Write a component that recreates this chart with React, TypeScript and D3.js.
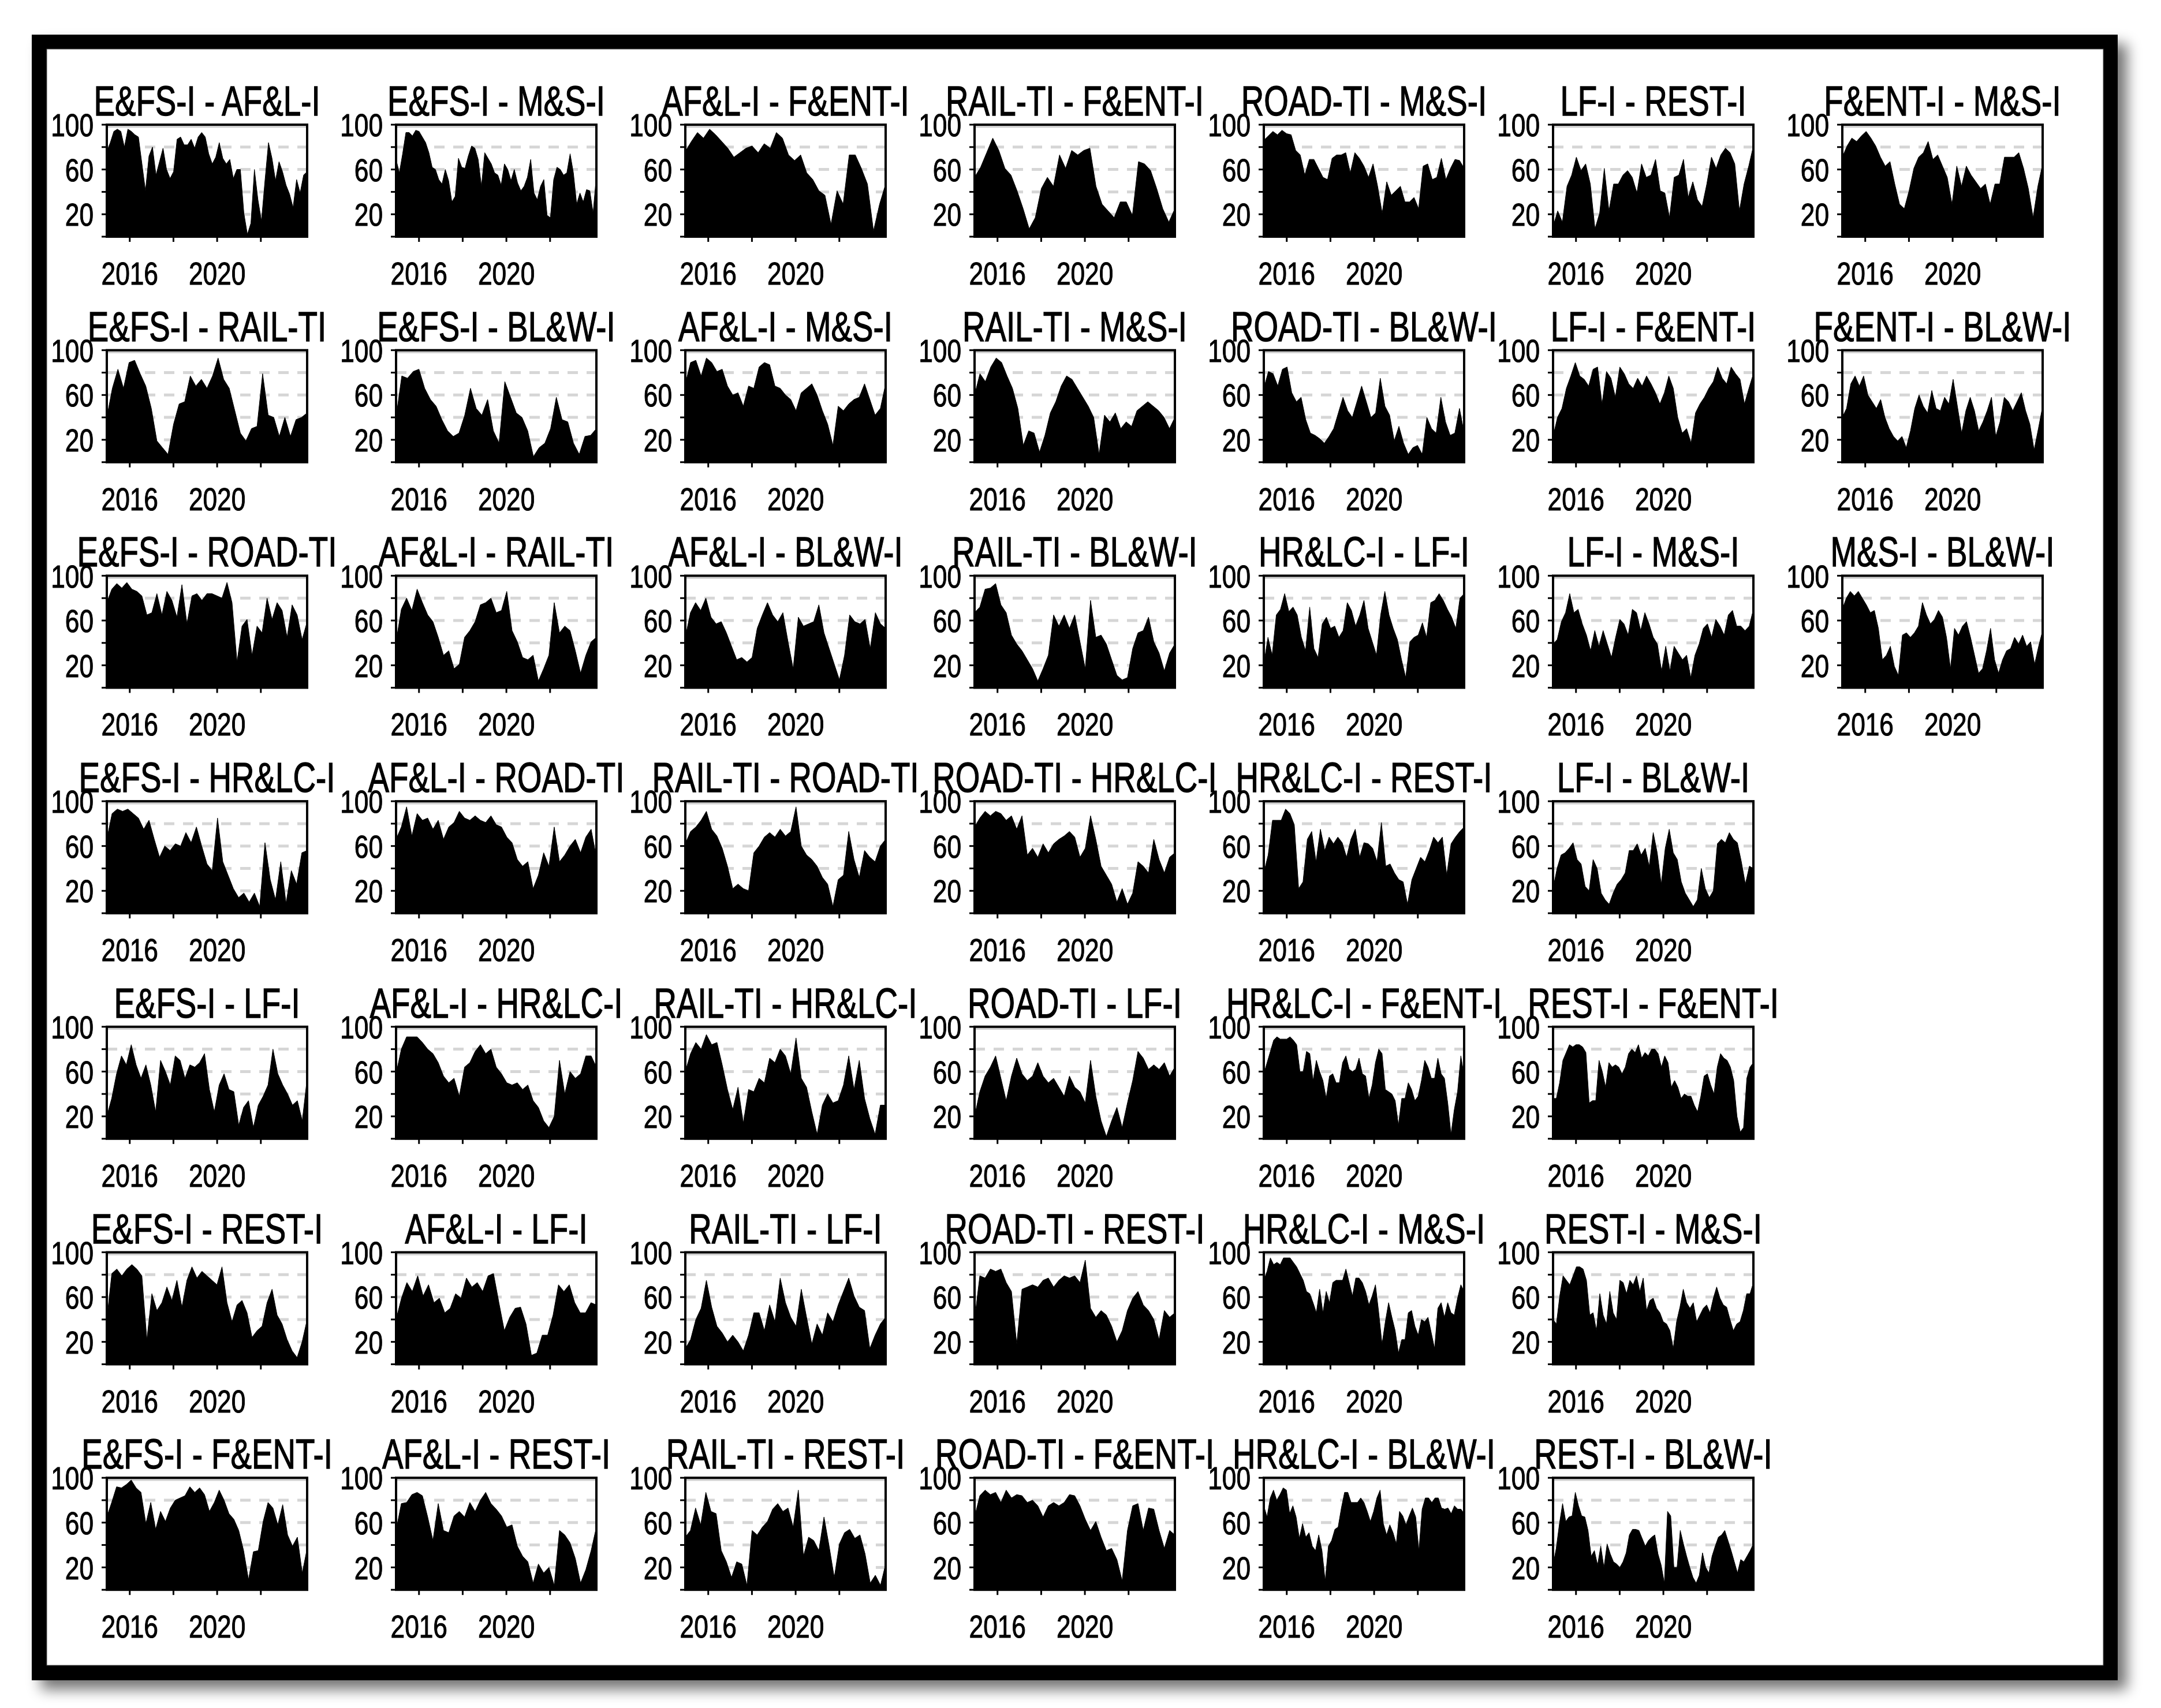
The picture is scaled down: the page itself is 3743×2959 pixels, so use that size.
import React from 'react';
import * as d3 from 'd3';

const W = 3743;
const H = 2959;

const titles = [
  'E&FS-I - AF&L-I', 'E&FS-I - M&S-I', 'AF&L-I - F&ENT-I', 'RAIL-TI - F&ENT-I', 'ROAD-TI - M&S-I', 'LF-I - REST-I', 'F&ENT-I - M&S-I',
  'E&FS-I - RAIL-TI', 'E&FS-I - BL&W-I', 'AF&L-I - M&S-I', 'RAIL-TI - M&S-I', 'ROAD-TI - BL&W-I', 'LF-I - F&ENT-I', 'F&ENT-I - BL&W-I',
  'E&FS-I - ROAD-TI', 'AF&L-I - RAIL-TI', 'AF&L-I - BL&W-I', 'RAIL-TI - BL&W-I', 'HR&LC-I - LF-I', 'LF-I - M&S-I', 'M&S-I - BL&W-I',
  'E&FS-I - HR&LC-I', 'AF&L-I - ROAD-TI', 'RAIL-TI - ROAD-TI', 'ROAD-TI - HR&LC-I', 'HR&LC-I - REST-I', 'LF-I - BL&W-I',
  'E&FS-I - LF-I', 'AF&L-I - HR&LC-I', 'RAIL-TI - HR&LC-I', 'ROAD-TI - LF-I', 'HR&LC-I - F&ENT-I', 'REST-I - F&ENT-I',
  'E&FS-I - REST-I', 'AF&L-I - LF-I', 'RAIL-TI - LF-I', 'ROAD-TI - REST-I', 'HR&LC-I - M&S-I', 'REST-I - M&S-I',
  'E&FS-I - F&ENT-I', 'AF&L-I - REST-I', 'RAIL-TI - REST-I', 'ROAD-TI - F&ENT-I', 'HR&LC-I - BL&W-I', 'REST-I - BL&W-I',
];
const rowSizes = [7, 7, 7, 6, 6, 6, 6];

const yTicks = [0, 20, 40, 60, 80, 100];
const yLabels = [20, 60, 100];
const xTicks = [2016, 2018, 2020, 2022];
const xLabels = [2016, 2020];
const gridLevels = [20, 40, 60, 80];
const dateStart = 2014.95;
const dateEnd = 2024.12;

const efsAfl = [76,84,94,96,94,80,96,94,91,89,65,41,72,80,55,67,79,60,52,58,87,89,82,82,87,79,89,93,89,74,65,71,84,70,65,69,52,60,60,21,2,12,60,33,14,50,84,70,50,67,58,46,38,26,51,39,55,58];
const efsMs = [69,57,74,93,93,90,95,94,89,84,75,62,60,51,47,60,50,31,36,70,62,61,72,81,79,69,45,75,70,65,57,55,46,65,60,50,60,48,41,45,53,69,39,33,45,51,19,17,51,62,60,55,57,74,57,29,39,31,42,41,21,55];
const aflFent = [76,85,93,88,96,91,85,79,71,75,79,81,75,83,79,93,88,73,68,73,57,51,41,37,11,41,29,73,73,61,47,5,29,47];
const railFent = [53,62,75,88,77,61,55,41,25,7,17,43,53,45,73,61,77,73,77,79,45,29,23,17,31,31,19,67,65,59,43,25,13,25];
const roadMs = [86,90,94,91,95,92,91,77,73,55,69,69,61,53,51,70,73,73,75,57,75,70,63,53,65,45,21,49,37,41,45,31,31,35,25,63,65,51,53,70,51,61,69,68,61];
const lfRest = [9,23,13,45,55,71,59,65,47,7,21,61,23,47,47,55,59,53,39,65,53,55,69,41,39,17,53,55,69,35,49,33,27,47,71,61,73,79,75,65,23,47,63,81];
const fentMs = [71,81,88,85,90,94,88,81,71,63,67,47,29,25,41,61,71,75,85,69,73,63,53,29,63,45,63,55,49,43,47,29,47,47,71,71,71,75,61,43,17,45,65];

const efsRail = [40,66,83,66,89,91,79,68,48,19,13,7,34,52,54,77,68,74,66,77,93,74,66,46,26,19,30,32,79,42,40,23,40,23,38,40,44];
const efsBlw = [40,77,75,81,83,66,56,50,38,28,23,26,42,66,48,42,56,28,17,72,58,44,40,28,5,13,17,30,58,38,36,17,7,23,24,30];
const aflMs = [70,89,91,77,93,89,81,83,68,60,62,50,68,66,85,89,87,68,66,60,56,46,62,66,70,60,46,34,15,50,46,52,56,58,70,56,42,48,70];
const railMs = [60,79,72,85,93,89,77,66,48,15,28,26,9,24,44,54,68,77,74,66,58,50,40,7,42,36,44,30,36,32,46,50,54,50,46,40,30,40];
const roadBlw = [66,81,79,68,83,85,62,54,58,38,26,24,21,17,23,30,44,58,46,40,54,68,54,40,44,75,50,42,19,32,17,7,13,15,7,40,30,26,58,36,24,26,48,26];
const lfFent = [23,40,48,66,77,89,77,74,68,83,85,52,81,75,58,85,79,70,66,75,68,77,70,62,52,62,77,66,40,26,30,17,44,52,58,66,72,85,75,70,85,79,74,52,66,79];
const fentBlw = [40,48,70,77,68,77,60,54,48,56,40,30,23,19,23,13,28,48,60,50,44,64,48,46,58,52,74,50,26,46,58,46,28,36,46,58,23,36,58,54,46,54,62,46,34,11,30,50];

const efsRoad = [76,88,93,89,94,88,86,82,65,67,84,65,86,78,63,92,57,82,84,78,84,84,82,80,94,76,23,55,61,29,55,49,80,61,76,69,45,74,65,43,59];
const aflRail = [41,70,80,69,88,76,65,59,45,29,33,17,21,45,51,59,74,76,80,67,69,86,51,41,27,25,29,6,17,29,76,49,55,51,33,13,29,41,45];
const aflBlw = [45,67,76,69,80,63,57,59,49,37,25,27,23,27,53,65,76,65,59,67,41,17,63,55,57,59,74,49,35,21,7,29,65,59,57,61,35,67,57,53];
const railBlw = [67,72,88,89,93,74,67,47,39,33,25,17,6,17,29,65,55,65,53,65,41,17,78,45,47,39,25,11,7,9,35,49,51,63,41,31,15,31,39];
const hrlcLf = [21,45,29,65,70,84,68,72,65,45,33,72,35,27,57,63,53,55,45,51,76,69,55,65,78,53,41,29,65,86,65,53,43,25,9,41,45,47,58,45,76,78,84,78,70,63,53,80,84];
const lfMs = [39,43,59,67,84,67,70,57,47,33,51,37,51,39,27,45,61,57,47,70,67,51,67,57,45,39,15,37,15,37,31,25,29,9,29,39,53,57,45,61,55,47,65,69,55,55,51,55,70];
const msBlw = [70,80,86,82,86,80,74,67,69,53,25,29,37,19,11,47,49,45,49,55,76,65,57,61,69,63,45,17,53,47,55,59,45,29,13,17,33,53,25,13,25,33,35,45,39,47,37,41,21,37,51];

const efsHrlc = [66,89,93,91,93,89,85,75,83,66,50,60,56,62,60,72,63,77,60,44,38,85,46,34,22,14,18,10,18,6,63,30,12,46,9,38,26,54,56];
const aflRoad = [66,77,95,69,89,83,85,75,83,66,77,81,91,85,83,87,83,81,87,79,77,68,63,48,42,46,22,34,54,42,77,46,52,60,66,54,68,75,50];
const railRoad = [62,73,77,83,91,75,69,58,42,22,26,22,20,54,60,68,72,68,75,69,73,95,60,52,48,42,32,26,6,30,34,73,48,32,56,50,46,60,66];
const roadHrlc = [77,85,91,87,91,89,83,87,75,87,52,58,50,62,54,62,66,69,73,68,50,58,87,66,42,34,26,10,22,8,18,46,42,36,66,48,36,50,54];
const hrlcRest = [36,52,83,83,83,93,89,79,22,28,66,73,46,75,56,68,62,68,63,50,66,75,50,63,62,58,46,81,42,44,36,30,28,8,30,40,50,46,56,68,63,68,34,62,68,73,77];
const lfBlw = [22,40,52,54,58,63,48,44,24,20,48,40,18,12,8,18,26,30,36,56,56,62,52,58,42,72,54,26,58,75,54,48,28,18,12,6,12,40,22,14,20,62,66,63,72,66,63,46,26,42,40];

const efsLf = [20,36,58,74,66,84,66,54,66,48,24,70,60,48,74,70,54,66,64,68,76,44,24,48,58,44,42,12,28,34,10,30,38,48,80,58,48,40,30,34,16,54];
const aflHrlc = [58,80,91,91,91,86,80,76,68,56,50,54,38,64,68,78,84,76,80,64,58,50,48,50,44,48,34,28,16,10,20,70,40,60,54,58,74,74,64];
const railHrlc = [60,76,86,80,93,84,86,66,44,26,46,14,44,42,54,50,72,68,80,74,58,90,54,46,24,4,30,40,32,34,48,74,44,70,36,18,4,30,30];
const roadLf = [20,42,56,64,74,54,34,56,72,58,52,56,68,56,50,54,46,38,56,46,42,32,70,38,16,2,16,28,10,32,52,78,72,62,66,62,68,56,64];
const hrlcFent = [58,68,78,88,91,89,89,89,91,88,84,60,60,78,76,52,70,60,52,36,56,58,50,50,68,74,62,60,62,72,58,56,36,48,68,80,76,44,42,40,34,12,36,36,50,44,34,38,52,70,64,54,54,72,58,54,32,4,26,42,74,56];
const restFent = [36,36,50,70,77,84,82,84,84,82,77,32,34,34,70,60,46,68,64,66,64,58,64,76,80,77,84,72,77,74,80,80,76,64,74,68,46,52,46,36,40,38,38,30,24,38,56,58,48,40,64,76,72,70,64,52,20,6,10,54,64,68];

const efsRest = [40,81,85,79,85,89,85,79,22,63,48,55,69,57,75,51,75,87,77,83,79,75,71,87,55,38,53,57,46,24,30,34,55,67,44,36,22,12,6,20,40];
const aflLf = [40,59,73,65,79,61,71,55,59,46,50,63,59,77,69,73,65,79,81,55,30,42,50,51,36,8,10,26,26,44,71,65,71,55,46,46,55,53];
const railLf = [14,22,40,50,75,51,34,28,20,26,20,12,26,46,46,30,53,38,77,55,42,34,67,42,18,36,26,46,38,53,65,77,61,51,48,14,26,36,42];
const roadRest = [40,79,77,85,83,85,73,65,18,67,69,71,69,75,77,69,75,79,77,79,73,93,50,42,48,44,34,20,30,48,59,65,53,48,40,22,48,42,46];
const hrlcMs = [75,83,95,89,91,89,95,95,95,91,87,81,75,65,63,55,46,67,46,65,55,73,75,75,75,85,73,61,77,77,73,65,53,61,71,46,18,38,55,42,30,10,22,22,46,48,34,26,40,38,42,28,14,50,55,42,55,46,44,59,71,65];
const restMs = [40,36,61,79,75,71,79,87,87,85,75,44,46,30,63,44,36,65,46,40,75,73,63,75,71,79,65,77,48,57,59,50,46,38,36,30,14,38,51,67,55,50,55,38,44,50,53,46,59,69,59,53,51,40,30,36,38,48,63,63,73];

const efsFent = [65,78,92,91,94,98,91,87,59,78,54,70,61,73,80,82,84,92,87,91,85,70,78,89,80,68,63,53,35,9,34,35,61,78,73,58,76,49,39,47,15,37];
const aflRest = [53,77,78,85,87,84,65,44,77,53,51,66,70,65,78,70,80,87,77,72,66,56,58,39,30,25,6,23,15,20,4,53,49,42,28,6,18,35,56];
const railRest = [47,53,73,58,87,70,68,35,25,11,25,23,4,53,49,56,61,72,77,70,73,56,89,30,47,44,35,65,39,11,41,51,54,46,49,32,6,13,4,23];
const roadFent = [65,84,89,85,87,78,89,82,85,84,78,80,75,65,75,78,75,78,85,84,75,63,53,61,47,35,37,27,8,53,75,77,53,73,72,53,37,53,49];
const hrlcBlw = [75,65,82,89,80,85,91,89,68,75,65,46,59,47,51,39,35,49,35,8,39,44,54,56,73,87,87,78,78,78,82,78,70,61,70,82,89,59,49,58,51,41,70,66,58,66,73,65,35,72,82,82,78,82,82,73,72,73,68,75,72,72,68];
const restBlw = [22,37,59,77,61,65,66,87,75,66,65,53,30,35,22,39,20,41,32,25,23,20,25,33,49,54,54,53,46,39,44,47,49,32,22,6,70,66,20,20,53,41,30,20,11,6,13,33,20,15,30,39,47,49,53,44,35,25,15,27,25,30,35,41];

const seriesList = [
  efsAfl, efsMs, aflFent, railFent, roadMs, lfRest, fentMs,
  efsRail, efsBlw, aflMs, railMs, roadBlw, lfFent, fentBlw,
  efsRoad, aflRail, aflBlw, railBlw, hrlcLf, lfMs, msBlw,
  efsHrlc, aflRoad, railRoad, roadHrlc, hrlcRest, lfBlw,
  efsLf, aflHrlc, railHrlc, roadLf, hrlcFent, restFent,
  efsRest, aflLf, railLf, roadRest, hrlcMs, restMs,
  efsFent, aflRest, railRest, roadFent, hrlcBlw, restBlw,
];

const FONT = '"Liberation Sans", Arial, Helvetica, sans-serif';

export default function App() {
  const boxW = 347;
  const boxH = 194;
  const col0 = 185;
  const colStep = 501;
  const row0 = 216;
  const rowStep = 390.7;

  const x = d3.scaleLinear().domain([dateStart, dateEnd]).range([0, boxW]);
  const y = d3.scaleLinear().domain([0, 100]).range([boxH, 0]);

  const panels: { title: string; values: number[]; row: number; col: number }[] = [];
  let k = 0;
  rowSizes.forEach((n, r) => {
    for (let c = 0; c < n; c++) {
      panels.push({ title: titles[k], values: seriesList[k], row: r, col: c });
      k++;
    }
  });

  const makeArea = (vals: number[]) => {
    const step = (dateEnd - dateStart) / (vals.length - 1);
    return d3
      .area<number>()
      .x((_, i) => x(dateStart + i * step))
      .y0(y(0))
      .y1((d) => y(d))
      .curve(d3.curveLinear)(vals) as string;
  };

  return (
    <svg
      width={W}
      height={H}
      viewBox={`0 0 ${W} ${H}`}
      style={{ position: 'absolute', left: 0, top: 0, display: 'block', background: '#fff' }}
    >
      <defs>
        <filter id="shadow" x="-5%" y="-5%" width="112%" height="112%">
          <feGaussianBlur in="SourceAlpha" stdDeviation="12" />
          <feOffset dx="16" dy="16" result="off" />
          <feComponentTransfer>
            <feFuncA type="linear" slope="0.55" />
          </feComponentTransfer>
          <feMerge>
            <feMergeNode />
            <feMergeNode in="SourceGraphic" />
          </feMerge>
        </filter>
      </defs>
      <rect x={0} y={0} width={W} height={H} fill="#fff" />
      <rect x={55} y={60} width={3668 - 55} height={2911 - 60} fill="#000" filter="url(#shadow)" />
      <rect x={81} y={85} width={3643 - 81} height={2885 - 85} fill="#fff" stroke="#555" strokeWidth={1} />

      {panels.map((p, i) => {
        const left = col0 + p.col * colStep;
        const top = row0 + p.row * rowStep;
        return (
          <g key={i} transform={`translate(${left},${top})`}>
            <g transform={`translate(${boxW / 2},${-16}) scale(0.76,1)`}>
              <text
                textAnchor="middle"
                fontFamily={FONT}
                fontSize={72}
                fill="#000"
                stroke="#000"
                strokeWidth={1.4}
              >
                {p.title}
              </text>
            </g>
            {gridLevels.map((g) => (
              <line
                key={g}
                x1={0}
                x2={boxW}
                y1={y(g)}
                y2={y(g)}
                stroke="#d6d6d6"
                strokeWidth={5}
                strokeDasharray="18,15"
              />
            ))}
            <line x1={0} x2={boxW} y1={y(98.3)} y2={y(98.3)} stroke="#cfcfcf" strokeWidth={4} />
            <path d={makeArea(p.values)} fill="#000" stroke="#000" strokeWidth={1} />
            <rect x={0} y={0} width={boxW} height={boxH} fill="none" stroke="#000" strokeWidth={4} />
            {yTicks.map((t) => (
              <line key={t} x1={-9} x2={0} y1={y(t)} y2={y(t)} stroke="#000" strokeWidth={3} />
            ))}
            {yLabels.map((t) => (
              <g key={t} transform={`translate(${-23},${y(t)}) scale(0.79,1)`}>
                <text
                  textAnchor="end"
                  dy="0.36em"
                  fontFamily={FONT}
                  fontSize={56}
                  fill="#000"
                  stroke="#000"
                  strokeWidth={1.1}
                >
                  {t}
                </text>
              </g>
            ))}
            {xTicks.map((t) => (
              <line key={t} x1={x(t)} x2={x(t)} y1={boxH} y2={boxH + 9} stroke="#000" strokeWidth={3} />
            ))}
            {xLabels.map((t) => (
              <g key={t} transform={`translate(${x(t)},${boxH + 83}) scale(0.79,1)`}>
                <text
                  textAnchor="middle"
                  fontFamily={FONT}
                  fontSize={56}
                  fill="#000"
                  stroke="#000"
                  strokeWidth={1.1}
                >
                  {t}
                </text>
              </g>
            ))}
          </g>
        );
      })}
    </svg>
  );
}
